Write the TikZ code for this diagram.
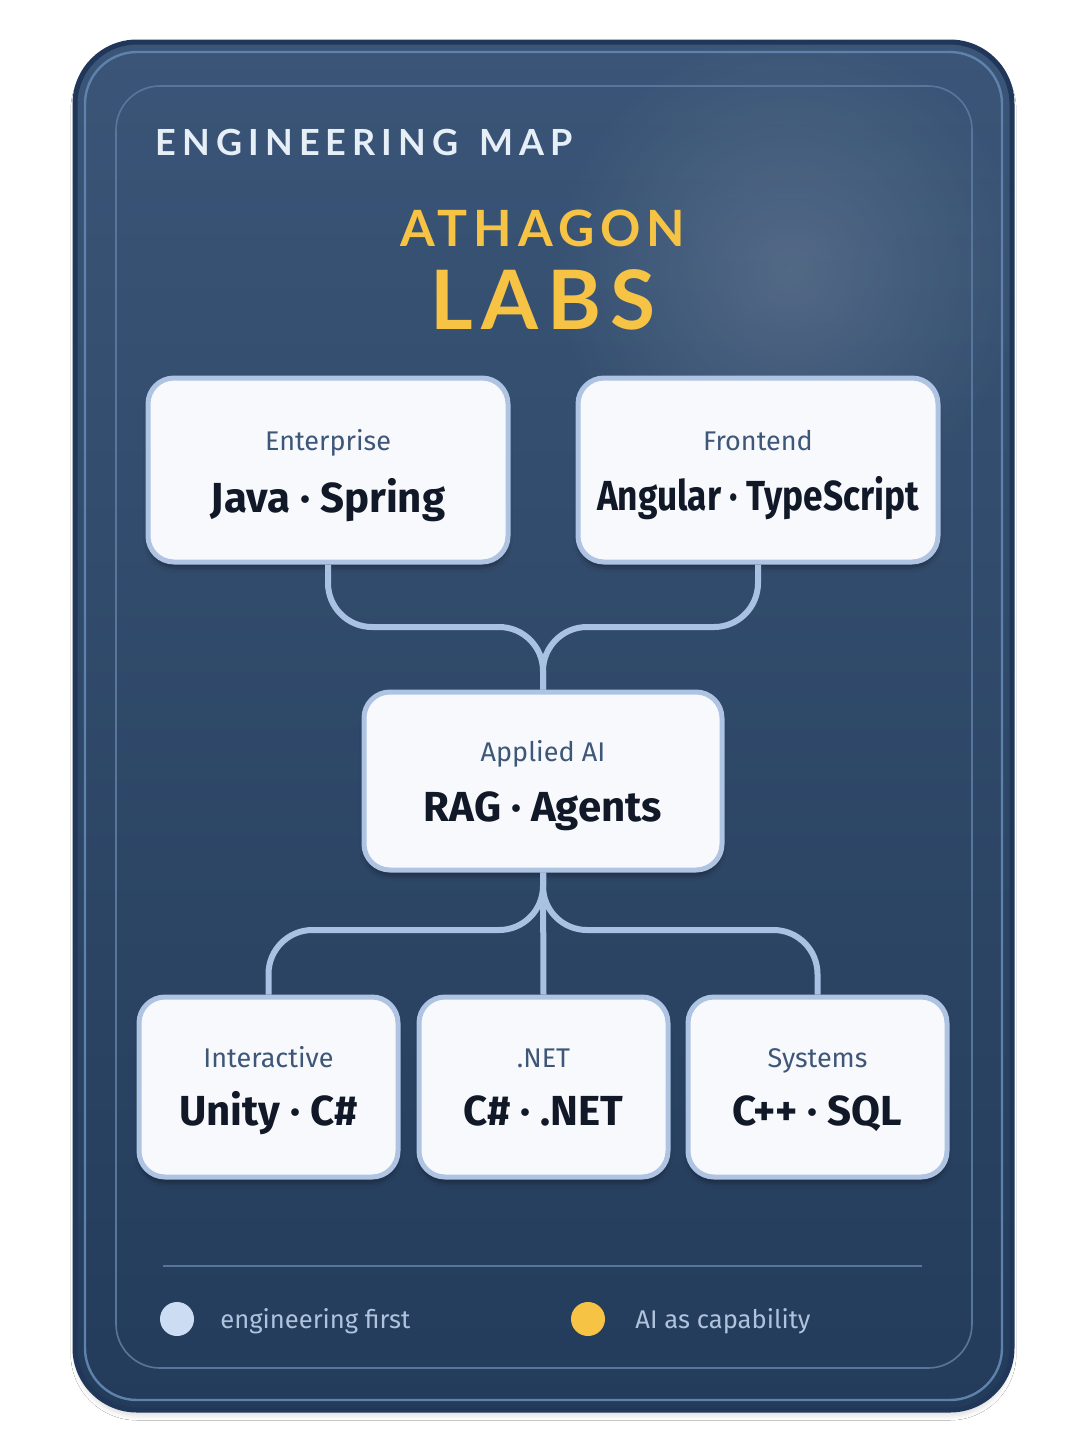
\documentclass[tikz,border=0pt]{standalone}
\usepackage{fontspec}
\setmainfont{Fira Sans}
\newfontfamily\headfont{Lato}
\usetikzlibrary{calc, positioning, shadows.blur, fadings}

\definecolor{cardtop}{HTML}{3A5577}
\definecolor{cardbot}{HTML}{243C5B}
\definecolor{cardedge}{HTML}{20375A}
\definecolor{cardglint}{HTML}{5F82AC}
\definecolor{framecol}{HTML}{58769B}
\definecolor{tilefill}{HTML}{F7F9FC}
\definecolor{tileline}{HTML}{AEC4E2}
\definecolor{linkcol}{HTML}{A9C1E2}
\definecolor{tagcol}{HTML}{3E5677}
\definecolor{techcol}{HTML}{111827}
\definecolor{headcol}{HTML}{E6EEF8}
\definecolor{gold}{HTML}{F6C344}
\definecolor{legendcol}{HTML}{AFC3DC}
\definecolor{dotpale}{HTML}{CCDDF3}

\tikzfading[name=glowfade, inner color=transparent!0, outer color=transparent!100]

\tikzset{
  tile/.style={
    rectangle, rounded corners=13pt, draw=tileline, line width=2.5pt, fill=tilefill,
    blur shadow={shadow xshift=0pt, shadow yshift=-3pt, shadow opacity=30}
  },
  tag/.style={anchor=base, font=\fontsize{13.5}{16}\selectfont, text=tagcol},
  tech/.style={anchor=base, font=\fontsize{21}{25}\selectfont\bfseries, text=techcol},
  link/.style={draw=linkcol, line width=3pt, rounded corners=22pt},
  dot/.style={circle, minimum size=17pt, inner sep=0pt},
  legend/.style={anchor=base west, inner sep=0pt, font=\fontsize{12.8}{15}\selectfont, text=legendcol}
}

\begin{document}
\begin{tikzpicture}[x=0.5pt, y=-0.5pt]
    \useasboundingbox (0,0) rectangle (1086,1448);
    \fill[white] (0,0) rectangle (1086,1448);

    % Card and frames
    \shade[top color=cardtop, bottom color=cardbot, rounded corners=31pt,
      blur shadow={shadow xshift=0pt, shadow yshift=-3pt, shadow opacity=12}]
      (75,42) rectangle (1012,1410);
    \fill[white, opacity=0.14, path fading=glowfade] (790,270) circle (240);
    \draw[cardedge, line width=2.5pt, rounded corners=31pt] (75,42) rectangle (1012,1410);
    \draw[cardglint, line width=1.2pt, rounded corners=26pt] (85,52) rectangle (1002,1400);
    \draw[framecol, line width=0.8pt, rounded corners=22pt] (116,86) rectangle (972,1368);

    % Headings
    \node[anchor=base west, inner sep=0pt, text=headcol, font=\headfont\bfseries\fontsize{18}{22}\selectfont\addfontfeatures{LetterSpace=17}]
      (head) at (155,155) {ENGINEERING\hspace{3pt} MAP};
    \node[anchor=base, text=gold, font=\headfont\bfseries\fontsize{25}{30}\selectfont\addfontfeatures{LetterSpace=12}]
      (brand) at (543,246) {ATHAGON};
    \node[anchor=base, text=gold, font=\headfont\bfseries\fontsize{41}{47}\selectfont\addfontfeatures{LetterSpace=11}]
      (labs) at (543,329) {LABS};

    % Tiles
    \node[tile, minimum width=180pt, minimum height=92pt] (ent) at (328,470) {};
    \node[tile, minimum width=180pt, minimum height=92pt] (front) at (758,470) {};
    \node[tile, minimum width=179pt, minimum height=89pt] (ai) at (543,781) {};
    \node[tile, minimum width=129.5pt, minimum height=90pt] (game) at (268.5,1087) {};
    \node[tile, minimum width=124.5pt, minimum height=90pt] (dotnet) at (543.5,1087) {};
    \node[tile, minimum width=129.5pt, minimum height=90pt] (sys) at (817.5,1087) {};

    \node[tag] at ([yshift=10pt]ent.center) {Enterprise};
    \node[tech] at ([yshift=-21pt]ent.center) {Java · Spring};
    \node[tag] at ([yshift=10pt]front.center) {Frontend};
    \node[tech, font=\fontsize{21}{25}\selectfont\bfseries\addfontfeatures{FakeStretch=0.84}]
      at ([yshift=-20pt]front.center) {Angular · TypeScript};
    \node[tag] at ([yshift=10pt]ai.center) {Applied AI};
    \node[tech] at ([yshift=-20pt]ai.center) {RAG · Agents};
    \node[tag] at ([yshift=10pt]game.center) {Interactive};
    \node[tech] at ([yshift=-19pt]game.center) {Unity · C\#};
    \node[tag] at ([yshift=10pt]dotnet.center) {.NET};
    \node[tech] at ([yshift=-19pt]dotnet.center) {C\# · .NET};
    \node[tag] at ([yshift=10pt]sys.center) {Systems};
    \node[tech] at ([yshift=-19pt]sys.center) {C++ · SQL};

    % Links
    \coordinate (upbar) at (543,627);
    \coordinate (lowbar) at (543,930);
    \draw[link] (ent.south) -- (ent.south |- upbar) -- (upbar) -- (ai.north);
    \draw[link] (front.south) -- (front.south |- upbar) -- (upbar) -- (ai.north);
    \draw[link] (ai.south) -- (lowbar) -- (game.north |- lowbar) -- (game.north);
    \draw[link] (ai.south) -- (lowbar) -- (sys.north |- lowbar) -- (sys.north);
    \draw[link] (ai.south) -- (dotnet.north);

    % Legend
    \draw[framecol, line width=0.8pt] (163,1266) -- (922,1266);
    \node[dot, fill=dotpale] (engdot) at (177,1319) {};
    \node[legend] at (220,1328) {engineering first};
    \node[dot, fill=gold] (aidot) at (588,1319) {};
    \node[legend] at (635,1328) {AI as capability};
\end{tikzpicture}
\end{document}
